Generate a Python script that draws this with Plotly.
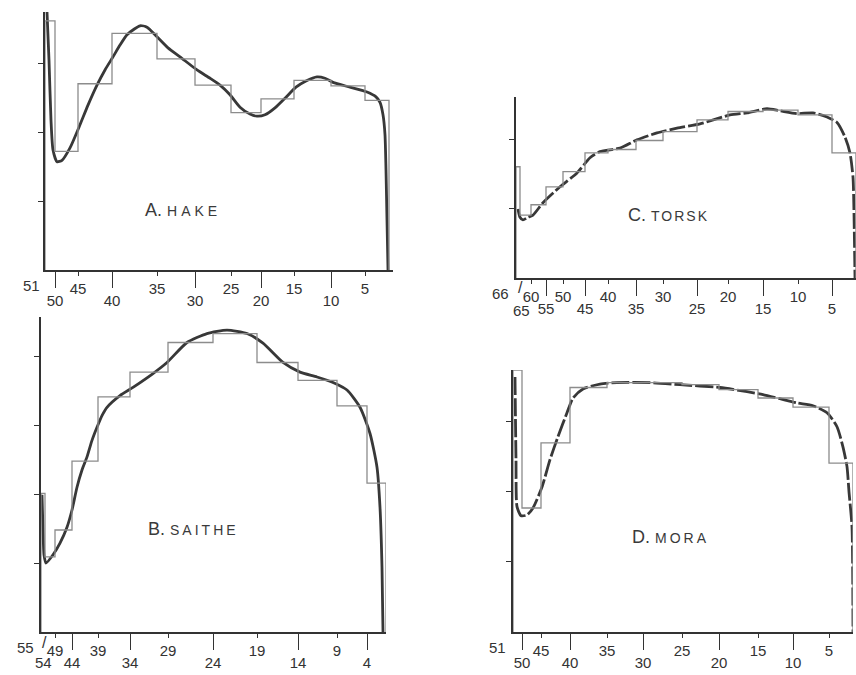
import plotly.graph_objects as go

# ---------------- data ----------------
# x positions are along each panel's (non-linear) class axis, in axis units
# A. HAKE
a_edge_labels = [51, 50, 45, 40, 35, 30, 25, 20, 15, 10, 5, None]
a_edge_pos = [0, 10, 33, 67, 112, 150, 186, 216, 249, 286, 320, 344]
a_hist = [3.61, 1.72, 2.70, 3.43, 3.06, 2.68, 2.28, 2.48, 2.75, 2.67, 2.46]
a_upper = [45, 35, 25, 15, 5]
a_lower = [50, 40, 30, 20, 10]
a_curve_x = [2, 4, 6, 8, 12, 17, 25, 34, 43, 52, 60, 68, 75, 82, 89, 95, 102, 112, 123, 135,
             152, 165, 175, 185, 195, 205, 212, 220, 230, 240, 251, 261, 272, 280, 288, 305,
             322, 331, 335, 338, 340, 341, 342, 343]
a_curve_y = [3.74, 3.04, 2.17, 1.74, 1.57, 1.59, 1.77, 2.07, 2.39, 2.68, 2.90, 3.09, 3.26, 3.41,
             3.49, 3.54, 3.52, 3.38, 3.22, 3.09, 2.90, 2.78, 2.68, 2.54, 2.36, 2.26, 2.23, 2.25,
             2.35, 2.49, 2.65, 2.74, 2.80, 2.78, 2.72, 2.65, 2.58, 2.51, 2.43, 2.25, 1.96, 1.45,
             0.72, 0]

# B. SAITHE
b_edge_labels = [55, 54, 49, 44, 39, 34, 29, 24, 19, 14, 9, 4, None]
b_edge_pos = [0, 4, 14, 31, 57, 89, 127, 172, 216, 257, 296, 326, 345]
b_hist = [2.01, 1.09, 1.48, 2.48, 3.41, 3.77, 4.20, 4.33, 3.91, 3.65, 3.28, 2.16]
b_upper = [49, 39, 29, 19, 9]
b_lower = [44, 34, 24, 14, 4]
b_curve_x = [1, 2, 3, 5, 12, 19, 26, 31, 36, 41, 46, 51, 56, 61, 66, 79, 92, 112, 126, 146,
             166, 186, 206, 222, 242, 259, 276, 292, 306, 319, 329, 336, 339, 341, 342]
b_curve_y = [1.99, 1.48, 1.12, 1.00, 1.12, 1.29, 1.52, 1.77, 2.10, 2.35, 2.54, 2.78, 2.97, 3.14,
             3.26, 3.43, 3.55, 3.75, 3.91, 4.20, 4.33, 4.38, 4.33, 4.19, 3.91, 3.77, 3.70, 3.62,
             3.51, 3.26, 2.88, 2.39, 1.81, 0.94, 0]

# C. TORSK
c_edge_labels = [66, 65, 60, 55, 50, 45, 40, 35, 30, 25, 20, 15, 10, 5, None]
c_edge_pos = [0, 4, 15, 30, 47, 69, 92, 120, 147, 181, 212, 247, 282, 316, 340]
c_hist = [1.61, 0.91, 1.06, 1.32, 1.54, 1.81, 1.86, 1.99, 2.12, 2.29, 2.41, 2.43, 2.36, 1.81]
c_upper = [60, 50, 40, 30, 20, 10]
c_lower = [55, 45, 35, 25, 15, 5]
c_curve_x = [2, 4, 7, 12, 17, 27, 44, 61, 74, 84, 104, 121, 141, 161, 184, 214, 231, 251, 264,
             281, 297, 311, 321, 329, 334, 337, 338, 339]
c_curve_y = [1.00, 0.88, 0.84, 0.88, 0.91, 1.09, 1.32, 1.52, 1.74, 1.83, 1.88, 2.00, 2.10, 2.17,
             2.23, 2.36, 2.39, 2.45, 2.42, 2.38, 2.39, 2.33, 2.25, 2.04, 1.81, 1.46, 0.94, 0]

# D. MORA
d_edge_labels = [51, 50, 45, 40, 35, 30, 25, 20, 15, 10, 5, None]
d_edge_pos = [0, 9, 28, 57, 94, 130, 169, 206, 245, 280, 316, 340]
d_hist = [3.74, 1.77, 2.70, 3.49, 3.56, 3.56, 3.53, 3.46, 3.34, 3.21, 2.41]
d_upper = [45, 35, 25, 15, 5]
d_lower = [50, 40, 30, 20, 10]
d_curve_x = [2, 3, 4, 8, 14, 20, 29, 37, 45, 54, 60, 70, 87, 104, 137, 167, 207, 234, 250, 267,
             284, 300, 314, 324, 330, 334, 336, 339, 340]
d_curve_y = [3.64, 2.46, 1.79, 1.66, 1.67, 1.77, 2.07, 2.46, 2.79, 3.13, 3.34, 3.47, 3.54, 3.56,
             3.56, 3.53, 3.49, 3.43, 3.39, 3.33, 3.27, 3.23, 3.13, 2.93, 2.64, 2.36, 2.00, 1.50, 0]

titles = ["A.", "B.", "C.", "D."]
names = ["HAKE", "SAITHE", "TORSK", "MORA"]

# ---------------- layout geometry ----------------
W, H = 856, 675
panels = [
    dict(pos=a_edge_pos, lab=a_edge_labels, hist=a_hist, up=a_upper, lo=a_lower,
         cx=a_curve_x, cy=a_curve_y, px=(45, 393), py=(270, 12), xr=348, ymax=3.74,
         yt=[1, 2, 3], dash="solid", txt=(138, 0.87), ls=4),
    dict(pos=b_edge_pos, lab=b_edge_labels, hist=b_hist, up=b_upper, lo=b_lower,
         cx=b_curve_x, cy=b_curve_y, px=(41, 386), py=(632, 317), xr=345, ymax=4.57,
         yt=[1, 2, 3, 4], dash="solid", txt=(152, 1.49), ls=3),
    dict(pos=c_edge_pos, lab=c_edge_labels, hist=c_hist, up=c_upper, lo=c_lower,
         cx=c_curve_x, cy=c_curve_y, px=(516, 856), py=(278, 97), xr=340, ymax=2.62,
         yt=[1, 2], dash="16px,3px", txt=(152, 0.91), ls=2),
    dict(pos=d_edge_pos, lab=d_edge_labels, hist=d_hist, up=d_upper, lo=d_lower,
         cx=d_curve_x, cy=d_curve_y, px=(513, 853), py=(632, 370), xr=340, ymax=3.74,
         yt=[1, 2, 3], dash="18px,3px", txt=(157, 1.36), ls=3),
]

AX = "#333333"
FONT = "Liberation Sans"
fig = go.Figure()
layout = dict(width=W, height=H, margin=dict(l=0, r=0, t=0, b=0),
              paper_bgcolor="white", plot_bgcolor="white", showlegend=False)
annotations = []

for i, p in enumerate(panels):
    xa = f"x{2*i+1}" if i > 0 else "x"
    xb = f"x{2*i+2}"
    ya = f"y{i+1}" if i > 0 else "y"
    xkey_a = "xaxis" if i == 0 else f"xaxis{2*i+1}"
    xkey_b = f"xaxis{2*i+2}"
    ykey = "yaxis" if i == 0 else f"yaxis{i+1}"
    lookup = {l: x for l, x in zip(p["lab"], p["pos"]) if l is not None}

    # step histogram built from edges / heights
    hx, hy = [p["pos"][0]], [0]
    for k, h in enumerate(p["hist"]):
        hx += [p["pos"][k], p["pos"][k + 1]]
        hy += [h, h]
    hx.append(p["pos"][-1]); hy.append(0)
    fig.add_trace(go.Scatter(x=hx, y=hy, xaxis=xb, yaxis=ya, mode="lines",
                             line=dict(color="#8c8c8c", width=1.3), hoverinfo="skip"))
    # smoothed curve
    fig.add_trace(go.Scatter(x=p["cx"], y=p["cy"], xaxis=xa, yaxis=ya, mode="lines",
                             line=dict(color="#383838", width=2.8, dash=p["dash"],
                                       shape="spline", smoothing=0.6),
                             hoverinfo="skip"))

    dom_x = [p["px"][0] / W, p["px"][1] / W]
    dom_y = [1 - p["py"][0] / H, 1 - p["py"][1] / H]
    common = dict(range=[0, p["xr"]], domain=dom_x, anchor=ya, showgrid=False, zeroline=False,
                  ticks="outside", tickwidth=1.4, tickcolor=AX,
                  tickfont=dict(family=FONT, size=15, color="#333"), fixedrange=True)
    layout[xkey_a] = dict(common, showline=True, linecolor=AX, linewidth=1.8, ticklen=4,
                          tickvals=[lookup[v] for v in p["up"]],
                          ticktext=[str(v) for v in p["up"]])
    layout[xkey_b] = dict(common, overlaying=xa, showline=False, ticklen=17,
                          tickvals=[lookup[v] for v in p["lo"]],
                          ticktext=[str(v) for v in p["lo"]])
    layout[ykey] = dict(range=[0, p["ymax"]], domain=dom_y, anchor=xa, showgrid=False,
                        zeroline=False, showline=True, linecolor=AX, linewidth=1.8,
                        ticks="outside", ticklen=5, tickwidth=1.4, tickcolor=AX,
                        tickvals=p["yt"], showticklabels=False, fixedrange=True)

    # first class label (left of the axis origin)
    annotations.append(dict(x=p["pos"][0], y=0, xref=xa, yref=ya, text=str(p["lab"][0]),
                            showarrow=False, xanchor="right", yanchor="middle",
                            xshift=-5 if i >= 1 else -3, yshift=-15,
                            font=dict(family=FONT, size=15, color="#333")))
    # panel title
    annotations.append(dict(x=p["txt"][0], y=p["txt"][1], xref=xa, yref=ya,
                            text=f"{titles[i]} <span style='font-size:14px;letter-spacing:{p['ls']}px'>{names[i]}</span>",
                            showarrow=False, xanchor="center", yanchor="middle",
                            font=dict(family=FONT, size=18, color="#3a3a3a")))

# axis-break marks and crowded labels near the origin
SL = dict(family=FONT, size=16, color="#333")
annotations += [
    dict(x=b_edge_pos[0] - 3, y=0, xref="x3", yref="y2", text="/", showarrow=False,
         yshift=-9, font=SL),
    dict(x=b_edge_pos[1] - 1, y=0, xref="x3", yref="y2", text="/", showarrow=False,
         yshift=-10, font=SL),
    dict(x=b_edge_pos[1] - 2, y=0, xref="x3", yref="y2", text=str(b_edge_labels[1]),
         showarrow=False, yshift=-30, font=dict(family=FONT, size=15, color="#333")),
    dict(x=c_edge_pos[1], y=0, xref="x5", yref="y3", text="/", showarrow=False,
         yshift=-9, font=SL),
    dict(x=c_edge_pos[1] + 1, y=0, xref="x5", yref="y3", text=str(c_edge_labels[1]),
         showarrow=False, yshift=-32, borderpad=0,
         font=dict(family=FONT, size=15, color="#333")),
]
layout["annotations"] = annotations
fig.update_layout(**layout)
fig.write_html("out.html", config={"displayModeBar": False},
               post_script="document.body.style.margin='0px';")
